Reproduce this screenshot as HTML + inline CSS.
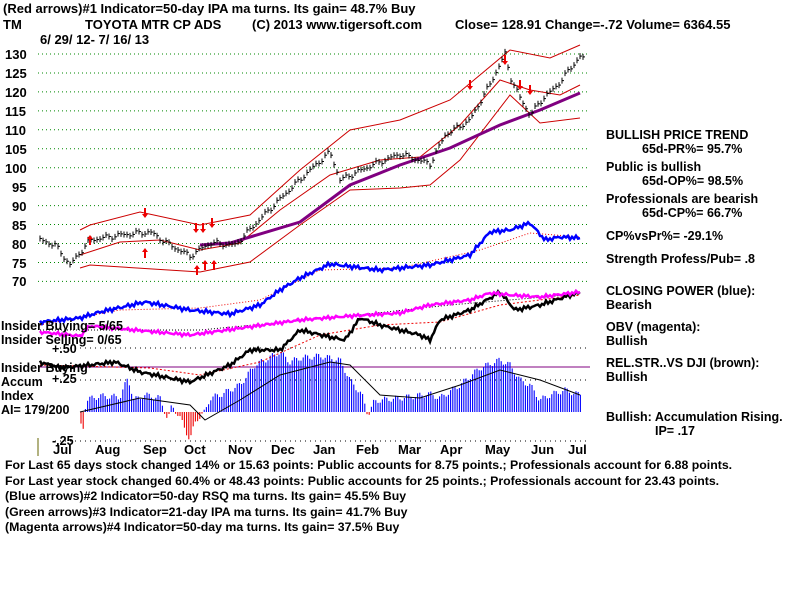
<!DOCTYPE html>
<html><head><meta charset="utf-8"><style>
body{margin:0;background:#fff;width:800px;height:600px;overflow:hidden;font-family:"Liberation Sans",Arial,sans-serif;}
svg text{font-family:"Liberation Sans",Arial,sans-serif;font-weight:bold;fill:#000}
</style></head><body>
<svg id="s" width="800" height="600" xmlns="http://www.w3.org/2000/svg">
<text x="3" y="13" font-size="13">(Red arrows)#1 Indicator=50-day IPA ma turns. Its gain= 48.7% Buy</text>
<text x="3" y="29" font-size="13">TM</text>
<text x="85" y="29" font-size="13">TOYOTA MTR CP ADS</text>
<text x="252" y="29" font-size="13">(C) 2013 www.tigersoft.com</text>
<text x="455" y="29" font-size="13">Close=  128.91  Change=-.72 Volume= 6364.55</text>
<text x="40" y="44" font-size="13">6/ 29/ 12- 7/ 16/ 13</text>
<g id="grid"></g>
<g font-size="13">
<text x="5" y="59">130</text><text x="5" y="78">125</text><text x="5" y="97">120</text><text x="5" y="116">115</text><text x="5" y="135">110</text><text x="5" y="154">105</text><text x="5" y="173">100</text><text x="12" y="192">95</text><text x="12" y="211">90</text><text x="12" y="230">85</text><text x="12" y="249">80</text><text x="12" y="268">75</text><text x="12" y="286">70</text>
</g>
<g id="plot"></g>
<g font-size="12.5">
<text x="1" y="330">Insider Buying= 5/65</text>
<text x="1" y="344">Insider Selling= 0/65</text>
<text x="52" y="353">+.50</text>
<text x="1" y="372">Insider Buying</text>
<text x="1" y="386">Accum</text>
<text x="52" y="383">+.25</text>
<text x="1" y="400">Index</text>
<text x="1" y="414">AI= 179/200</text>
<text x="52" y="445">-.25</text>
</g>
<g font-size="13">
<text x="53" y="454">Jul</text><text x="95" y="454">Aug</text><text x="143" y="454">Sep</text><text x="184" y="454">Oct</text><text x="228" y="454">Nov</text><text x="271" y="454">Dec</text><text x="313" y="454">Jan</text><text x="356" y="454">Feb</text><text x="398" y="454">Mar</text><text x="440" y="454">Apr</text><text x="485" y="454">May</text><text x="531" y="454">Jun</text><text x="568" y="454">Jul</text>
</g>
<g font-size="12.5">
<text x="606" y="139">BULLISH PRICE TREND</text>
<text x="642" y="153">65d-PR%= 95.7%</text>
<text x="606" y="171">Public is bullish</text>
<text x="642" y="185">65d-OP%= 98.5%</text>
<text x="606" y="203">Professionals are bearish</text>
<text x="642" y="217">65d-CP%= 66.7%</text>
<text x="606" y="240">CP%vsPr%= -29.1%</text>
<text x="606" y="263">Strength Profess/Pub= .8</text>
<text x="606" y="295">CLOSING POWER (blue):</text>
<text x="606" y="309">Bearish</text>
<text x="606" y="331">OBV (magenta):</text>
<text x="606" y="345">Bullish</text>
<text x="606" y="367">REL.STR..VS DJI (brown):</text>
<text x="606" y="381">Bullish</text>
<text x="606" y="421">Bullish: Accumulation Rising.</text>
<text x="655" y="435">IP=  .17</text>
</g>
<g font-size="12.3">
<text x="5" y="469">For Last 65 days stock changed  14% or  15.63 points:  Public accounts for  8.75 points.;  Professionals account for  6.88 points.</text>
<text x="5" y="485">For Last year stock changed  60.4% or  48.43 points:  Public accounts for  25 points.;  Professionals account for  23.43 points.</text>
<text x="5" y="500">(Blue arrows)#2 Indicator=50-day RSQ ma turns. Its gain= 45.5% Buy</text>
<text x="5" y="516">(Green arrows)#3 Indicator=21-day IPA ma turns. Its gain= 41.7% Buy</text>
<text x="5" y="531">(Magenta arrows)#4 Indicator=50-day ma turns. Its gain= 37.5% Buy</text>
</g>
</svg>
<script>
var NS="http://www.w3.org/2000/svg";
function el(g,t,a){var e=document.createElementNS(NS,t);for(var k in a)e.setAttribute(k,a[k]);document.getElementById(g).appendChild(e);return e;}
function interp(pts,x){for(var i=0;i<pts.length-1;i++){if(x>=pts[i][0]&&x<=pts[i+1][0]){var t=(x-pts[i][0])/(pts[i+1][0]-pts[i][0]);return pts[i][1]+t*(pts[i+1][1]-pts[i][1]);}}return pts[pts.length-1][1];}
function line(pts,c,w,d){var s=pts.map(p=>p[0]+","+p[1]).join(" ");var a={points:s,fill:"none",stroke:c,"stroke-width":w};if(d)a["stroke-dasharray"]=d;el("plot","polyline",a);}
function jit(pts,amp,st){st=st||2;var o=[];for(var x=pts[0][0];x<=pts[pts.length-1][0];x+=st){o.push([x,interp(pts,x)+amp*Math.sin(x*1.7)+amp*0.6*Math.sin(x*0.63)]);}return o;}
for(var y=54;y<=282;y+=18.95)el("grid","line",{x1:38,x2:590,y1:y,y2:y,stroke:"#080","stroke-width":1,"stroke-dasharray":"1,3"});
[348,380,441].forEach(y=>el("grid","line",{x1:55,x2:590,y1:y,y2:y,stroke:"#000","stroke-width":1,"stroke-dasharray":"1,4"}));
el("grid","line",{x1:40,x2:590,y1:367,y2:367,stroke:"#800080","stroke-width":1});
el("grid","line",{x1:38,x2:38,y1:438,y2:456,stroke:"#660","stroke-width":1});
var acc=[[80,412],[82,440],[86,400],[100,396],[120,397],[128,378],[134,400],[145,395],[160,398],[165,412],[168,420],[172,405],[180,418],[190,440],[196,420],[205,412],[210,398],[220,395],[240,385],[255,365],[265,360],[280,352],[290,362],[300,358],[320,356],[340,360],[350,380],[362,395],[368,415],[374,402],[380,400],[400,398],[430,394],[440,398],[460,385],[480,368],[500,360],[510,365],[520,380],[530,385],[540,400],[550,395],[565,390],[580,395],[582,390]];
for(var x=81;x<=582;x+=2.2){var v=interp(acc,x)+3*Math.sin(x*2.3);var c=v<412?"#00f":"#e00";el("plot","line",{x1:x,x2:x,y1:412,y2:v,stroke:c,"stroke-width":1.1});}
line([[80,412],[140,398],[190,405],[205,420],[240,400],[280,375],[330,362],[350,365],[380,395],[420,398],[460,385],[500,370],[540,380],[580,395]],"#000",1);
var rs=[[40,362],[60,368],[90,365],[115,362],[140,372],[170,378],[190,382],[230,365],[250,350],[280,350],[300,330],[330,337],[345,340],[360,318],[380,325],[420,335],[430,340],[440,320],[470,310],[500,292],[515,310],[540,305],[580,292]];
line([[40,365],[150,368],[200,375],[260,362],[320,335],[380,325],[440,322],[500,305],[580,295]],"#e00",1,"2,2");
line(jit(rs,1.5),"#000",2.5);
var obv=[[40,332],[80,336],[90,326],[190,335],[300,320],[350,316],[400,313],[430,305],[470,300],[490,293],[510,295],[540,297],[580,292]];
line([[40,330],[200,330],[350,316],[450,305],[580,294]],"#000",1,"1,2");
line(jit(obv,1.2),"#f0f",2.5);
var cp=[[40,322],[80,318],[100,312],[145,302],[190,310],[230,314],[260,305],[280,290],[300,278],[330,264],[380,270],[430,265],[470,255],[490,232],[510,230],[530,223],[545,240],[560,237],[580,238]];
line([[40,325],[120,310],[200,308],[260,300],[320,270],[400,268],[480,250],[530,233],[580,237]],"#e00",1,"1,2");
line(jit(cp,1.5),"#00f",2.5);
line([[80,230],[90,225],[140,212],[200,225],[250,215],[300,170],[350,130],[400,120],[450,100],[510,50],[550,58],[580,45]],"#c00",1);
line([[80,268],[90,265],[200,272],[250,262],[300,225],[350,190],[400,188],[430,185],[460,160],[510,95],[540,123],[580,118]],"#c00",1);
line([[80,255],[120,242],[160,240],[200,250],[240,243],[280,210],[330,175],[380,160],[420,157],[460,125],[500,80],[530,90],[560,95],[580,85]],"#c00",1);
line([[200,245],[230,243],[300,222],[350,185],[400,165],[450,148],[500,125],[540,110],[580,93]],"#800080",3);
var pr=[[40,240],[55,245],[70,265],[90,240],[120,235],[150,232],[170,245],[190,256],[210,243],[235,245],[260,219],[290,189],[310,170],[330,152],[340,180],[370,166],[400,154],[430,164],[445,135],[470,120],[490,84],[505,54],[510,76],[520,98],[530,115],[545,96],[555,88],[570,69],[580,56],[585,60]];
var pp=jit(pr,1.8,3);for(var i=0;i<pp.length;i++){var p=pp[i];el("plot","line",{x1:p[0],x2:p[0],y1:p[1]-3,y2:p[1]+3,stroke:"#000","stroke-width":1});el("plot","line",{x1:p[0],x2:p[0]+2,y1:p[1],y2:p[1],stroke:"#000","stroke-width":1});}
function arrow(x,y,dn){var d=dn?1:-1;el("plot","line",{x1:x,x2:x,y1:y,y2:y+8*d,stroke:"#e00","stroke-width":2});el("plot","polygon",{points:(x-3)+","+(y+6*d)+" "+(x+3)+","+(y+6*d)+" "+x+","+(y+10*d),fill:"#e00"});}
[[145,208],[196,223],[203,223],[212,218]].forEach(a=>arrow(a[0],a[1],1));
[[145,258],[197,275],[205,270],[214,270],[90,245]].forEach(a=>arrow(a[0],a[1],0));
[[470,95],[505,70],[520,95],[530,100]].forEach(a=>arrow(a[0],a[1]-15,1));
</script>
</body></html>
